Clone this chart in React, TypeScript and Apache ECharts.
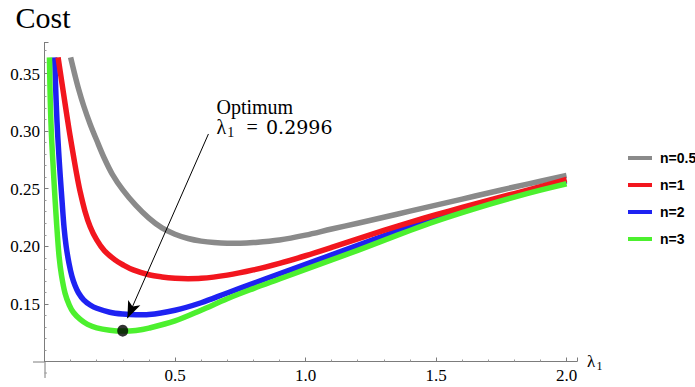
import React, { useEffect, useRef } from 'react';
import * as echarts from 'echarts';

// ---- data ----
const seriesNames = ['n=0.5', 'n=1', 'n=2', 'n=3'];

const costN05: [number, number][] = [
  [0.1, 0.364], [0.115, 0.35], [0.13, 0.337], [0.15, 0.322], [0.175, 0.306], [0.2, 0.292],
  [0.23, 0.276], [0.26, 0.2625], [0.3, 0.249], [0.35, 0.2355], [0.4, 0.2245], [0.45, 0.216],
  [0.5, 0.2105], [0.55, 0.2068], [0.6, 0.2045], [0.65, 0.2032], [0.7, 0.2027], [0.75, 0.2027],
  [0.8, 0.2032], [0.9, 0.2055], [1.0, 0.2097], [1.1, 0.215], [1.2, 0.22], [1.3, 0.2252],
  [1.4, 0.2305], [1.5, 0.2357], [1.6, 0.241], [1.7, 0.2463], [1.8, 0.2515], [1.9, 0.2565], [2.0, 0.2615],
];

const costN1: [number, number][] = [
  [0.052, 0.364], [0.066, 0.343], [0.08, 0.322], [0.095, 0.3], [0.114, 0.2745], [0.125, 0.2605],
  [0.137, 0.247], [0.155, 0.2305], [0.175, 0.217], [0.2, 0.2055], [0.23, 0.196], [0.27, 0.1882],
  [0.3, 0.184], [0.34, 0.1795], [0.4, 0.1753], [0.45, 0.1734], [0.5, 0.1723], [0.55, 0.1719],
  [0.6, 0.1722], [0.7, 0.175], [0.8, 0.1795], [0.9, 0.1852], [1.0, 0.1918], [1.1, 0.199],
  [1.2, 0.2065], [1.3, 0.2138], [1.4, 0.2208], [1.5, 0.2274], [1.6, 0.2337], [1.7, 0.2398],
  [1.8, 0.2458], [1.9, 0.2518], [2.0, 0.258],
];

const costN2: [number, number][] = [
  [0.039, 0.364], [0.043, 0.336], [0.048, 0.308], [0.054, 0.283], [0.06, 0.262], [0.067, 0.24],
  [0.075, 0.216], [0.083, 0.2], [0.094, 0.185], [0.105, 0.174], [0.117, 0.166], [0.13, 0.1597],
  [0.15, 0.1535], [0.175, 0.149], [0.2, 0.1462], [0.25, 0.1428], [0.3, 0.1412], [0.35, 0.1405],
  [0.4, 0.1408], [0.5, 0.1445], [0.6, 0.151], [0.7, 0.1595], [0.8, 0.1678], [0.9, 0.1762],
  [1.0, 0.1843], [1.1, 0.1925], [1.2, 0.2008], [1.3, 0.209], [1.4, 0.2172], [1.5, 0.2248],
  [1.6, 0.2318], [1.7, 0.2385], [1.8, 0.245], [1.9, 0.251], [2.0, 0.2568],
];

const costN3: [number, number][] = [
  [0.019, 0.364], [0.021, 0.338], [0.024, 0.312], [0.028, 0.29], [0.033, 0.27], [0.038, 0.25],
  [0.044, 0.228], [0.05, 0.208], [0.056, 0.191], [0.065, 0.175], [0.079, 0.159], [0.095, 0.149],
  [0.111, 0.1425], [0.137, 0.1365], [0.165, 0.1322], [0.2, 0.1292], [0.25, 0.1272], [0.3, 0.1264],
  [0.35, 0.127], [0.4, 0.129], [0.5, 0.1352], [0.6, 0.1445], [0.7, 0.1545], [0.8, 0.1633],
  [0.9, 0.1716], [1.0, 0.1799], [1.1, 0.1882], [1.2, 0.1965], [1.3, 0.2052], [1.4, 0.2137],
  [1.5, 0.2218], [1.6, 0.2292], [1.7, 0.2362], [1.8, 0.2427], [1.9, 0.2487], [2.0, 0.2543],
];

const xTickLabels = [0.5, 1.0, 1.5, 2.0];
const yTickLabels = [0.15, 0.2, 0.25, 0.3, 0.35];

const optimumPoint: [number, number] = [0.2996, 0.1268];
const optimumLabel = '0.2996';
const arrowFrom: [number, number] = [0.628, 0.2975];
const arrowTo: [number, number] = [0.3176, 0.1376];

const xMin = 0;
const xMax = 2.04;
const xInterval = 0.5;
const yMin = 0.1;
const yMax = 0.377;
const yInterval = 0.05;

const colors = ['#8a8a8a', '#f2161e', '#1e22f2', '#4cf02e'];
const zOrder = [2, 4, 3, 5];

const AXIS = '#7c7c7c';
const SERIF = 'Liberation Serif';
const SANS = 'Liberation Sans';

export default function App() {
  const ref = useRef<HTMLDivElement>(null);

  useEffect(() => {
    const chart = echarts.init(ref.current!, null, { renderer: 'svg' });
    const datasets = [costN05, costN1, costN2, costN3];

    const lineSeries = datasets.map((d, i) => ({
      name: seriesNames[i],
      type: 'line',
      data: d,
      z: zOrder[i],
      smooth: 0.35,
      symbol: 'none',
      showSymbol: false,
      silent: true,
      lineStyle: { color: colors[i], width: 5.5, cap: 'butt', join: 'round' },
      itemStyle: { color: colors[i] },
      emphasis: { disabled: true },
    }));

    chart.setOption({
      animation: false,
      backgroundColor: '#ffffff',
      grid: { left: 44.5, right: 118, top: 42.4, bottom: 25.5 },
      legend: {
        data: seriesNames,
        orient: 'vertical',
        left: 623,
        top: 145,
        icon: 'rect',
        itemWidth: 24,
        itemHeight: 4,
        itemGap: 11,
        selectedMode: false,
        textStyle: {
          fontFamily: SANS,
          fontWeight: 'bold',
          fontSize: 14,
          lineHeight: 16,
          color: '#000',
          padding: [0, 0, 0, 3],
        },
      },
      xAxis: {
        type: 'value',
        min: xMin,
        max: xMax,
        interval: xInterval,
        splitLine: { show: false },
        axisLine: { show: true, onZero: false, lineStyle: { color: AXIS, width: 1 } },
        axisTick: { show: true, inside: true, length: 4, lineStyle: { color: AXIS } },
        minorTick: { show: true, splitNumber: 5, length: 2, lineStyle: { color: '#9a9a9a' } },
        axisLabel: { show: false },
      },
      yAxis: {
        type: 'value',
        min: yMin,
        max: yMax,
        interval: yInterval,
        splitLine: { show: false },
        axisLine: { show: true, onZero: false, lineStyle: { color: AXIS, width: 1 } },
        axisTick: { show: true, inside: true, length: 4, lineStyle: { color: AXIS } },
        minorTick: { show: true, splitNumber: 5, length: 2, lineStyle: { color: '#9a9a9a' } },
        axisLabel: { show: false },
      },
      series: [
        ...lineSeries,
        {
          name: 'optimum',
          type: 'scatter',
          data: [optimumPoint],
          symbol: 'circle',
          symbolSize: [11, 12],
          itemStyle: { color: '#000' },
          z: 10,
          silent: true,
          markLine: {
            silent: true,
            symbol: ['none', 'arrow'],
            symbolSize: [10, 17],
            label: { show: false },
            lineStyle: { color: '#000', width: 1, type: 'solid' },
            emphasis: { disabled: true },
            data: [[{ coord: arrowFrom }, { coord: arrowTo }]],
          },
        },
      ],
    });

    const [ox, oy] = chart.convertToPixel({ gridIndex: 0 }, [0, yMin]) as number[];
    const [ex] = chart.convertToPixel({ gridIndex: 0 }, [xMax, yMin]) as number[];
    const y09 = chart.convertToPixel({ yAxisIndex: 0 }, 0.09) as number;
    const yBottom = chart.convertToPixel({ yAxisIndex: 0 }, 0.0857) as number;
    const xLeft = chart.convertToPixel({ xAxisIndex: 0 }, -0.044) as number;

    const txt = (
      text: string,
      x: number,
      y: number,
      size: number,
      font: string,
      align: string = 'left',
    ) => ({
      type: 'text',
      x,
      y,
      silent: true,
      style: {
        text,
        fill: '#000',
        fontSize: size,
        fontFamily: font,
        align,
        verticalAlign: 'middle',
      },
    });

    const xLabels = xTickLabels.map((v) =>
      txt(v.toFixed(1), chart.convertToPixel({ xAxisIndex: 0 }, v) as number, oy + 13.5, 17, SERIF, 'center'),
    );
    const yLabels = yTickLabels.map((v) =>
      txt(v.toFixed(2), ox - 4.5, (chart.convertToPixel({ yAxisIndex: 0 }, v) as number) + 0.5, 17, SERIF, 'right'),
    );

    chart.setOption({
      graphic: {
        elements: [
          // axis extensions (axes cross at the origin, Mathematica style)
          { type: 'line', silent: true, shape: { x1: xLeft, y1: oy + 0.5, x2: ox, y2: oy + 0.5 }, style: { stroke: AXIS, lineWidth: 1 } },
          { type: 'line', silent: true, shape: { x1: ox + 0.5, y1: oy, x2: ox + 0.5, y2: yBottom }, style: { stroke: AXIS, lineWidth: 1 } },
          { type: 'line', silent: true, shape: { x1: ox, y1: y09, x2: ox + 2.5, y2: y09 }, style: { stroke: '#9a9a9a', lineWidth: 1 } },
          ...xLabels,
          ...yLabels,
          // title
          txt('Cost', 15.5, 17, 30, SERIF),
          // x axis name  λ1
          txt('λ', ex + 10, oy - 0.5, 17, SERIF),
          txt('1', ex + 19.5, oy + 4.5, 12, SERIF),
          // annotation
          txt('Optimum', 216.5, 106.7, 20, SERIF),
          txt('λ', 216.5, 127.2, 20, SERIF),
          txt('1', 227.3, 132.3, 14, SERIF),
          txt('=', 246.5, 127.2, 20, SERIF),
          txt(optimumLabel, 266, 127.4, 19, 'DejaVu Serif'),
        ],
      },
    });

    return () => chart.dispose();
  }, []);

  return (
    <div
      ref={ref}
      style={{ position: 'fixed', left: 0, top: 0, width: 695, height: 387, background: '#fff' }}
    />
  );
}
